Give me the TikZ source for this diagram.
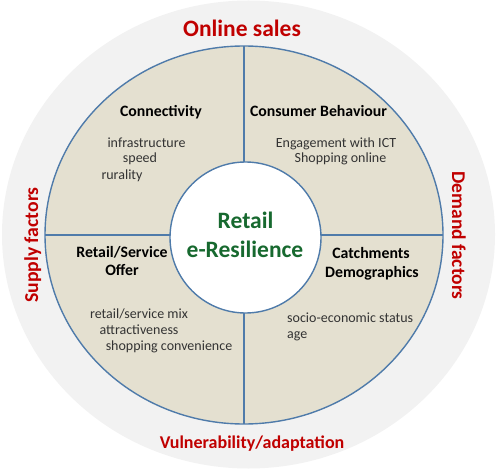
\documentclass[tikz,border=0pt]{standalone}
\usepackage{fontspec}
\setmainfont{Carlito}
\usetikzlibrary{shapes.geometric}
\definecolor{ringgray}{HTML}{F2F2F2}
\definecolor{beige}{HTML}{E4E0D0}
\definecolor{lineblue}{HTML}{4F7BAA}
\definecolor{redtxt}{HTML}{C00000}
\definecolor{greentxt}{HTML}{17692F}
\definecolor{bodytxt}{HTML}{333333}
\begin{document}
\begin{tikzpicture}[x=1pt,y=-1pt,
  blueline/.style={draw=lineblue, line width=1.4pt},
  head/.style={anchor=base, font=\fontsize{15.8}{19}\selectfont\bfseries, text=black, inner sep=0pt},
  body/.style={anchor=base, font=\fontsize{14}{17}\selectfont, text=bodytxt, inner sep=0pt},
  side/.style={anchor=base, font=\fontsize{19.7}{24}\selectfont\bfseries, text=redtxt, inner sep=0pt},
  big/.style={anchor=base, font=\fontsize{23.5}{28}\selectfont\bfseries, inner sep=0pt}]
\useasboundingbox (0,0) rectangle (497,470);
% outer gray disc
\node[ellipse, fill=ringgray, minimum width=493pt, minimum height=468pt, inner sep=0pt] (bg) at (248.5,234.5) {};
% beige ring
\node[ellipse, fill=beige, blueline, minimum width=398pt, minimum height=378pt, inner sep=0pt, outer sep=0pt] (ring) at (244,235) {};
\draw[blueline] (ring.north) -- (ring.south);
\draw[blueline] (ring.west) -- (ring.east);
% core
\node[circle, fill=white, blueline, minimum size=151pt, inner sep=0pt] (core) at (245.5,237.5) {};
\node[big, text=greentxt] (t1) at (245.5,228) {Retail};
\node[big, text=greentxt] (t2) at (245,257) {e-Resilience};
% outer labels
\node[big, text=redtxt] (online) at (242,37) {Online sales};
\node[side, font=\fontsize{18}{22}\selectfont\bfseries] (vuln) at (252,448) {Vulnerability/adaptation};
\node[side, rotate=90] (supply) at (38,245) {Supply factors};
\node[side, font=\fontsize{19.5}{24}\selectfont\bfseries, rotate=-90] (demand) at (452,235.5) {Demand factors};
% quadrant: connectivity
\node[head] (h1) at (161,117) {Connectivity};
\node[body] (b11) at (146.5,148) {infrastructure};
\node[body] (b12) at (140,163) {speed};
\node[body] (b13) at (122,180) {rurality};
% quadrant: consumer behaviour
\node[head] (h2) at (318.5,117) {Consumer Behaviour};
\node[body] (b21) at (336,148) {Engagement with ICT};
\node[body] (b22) at (340.5,163) {Shopping online};
% quadrant: retail/service offer
\node[head] (h3a) at (122,257) {Retail/Service};
\node[head] (h3b) at (122,275) {Offer};
\node[body] (b31) at (139,318) {retail/service mix};
\node[body] (b32) at (139,334) {attractiveness};
\node[body] (b33) at (169,350) {shopping convenience};
% quadrant: catchments
\node[head] (h4a) at (371,258) {Catchments};
\node[head] (h4b) at (372,277) {Demographics};
\node[body, anchor=base west] (b41) at (287,322) {socio-economic status};
\node[body, anchor=base west] (b42) at (287,338) {age};
\end{tikzpicture}
\end{document}
